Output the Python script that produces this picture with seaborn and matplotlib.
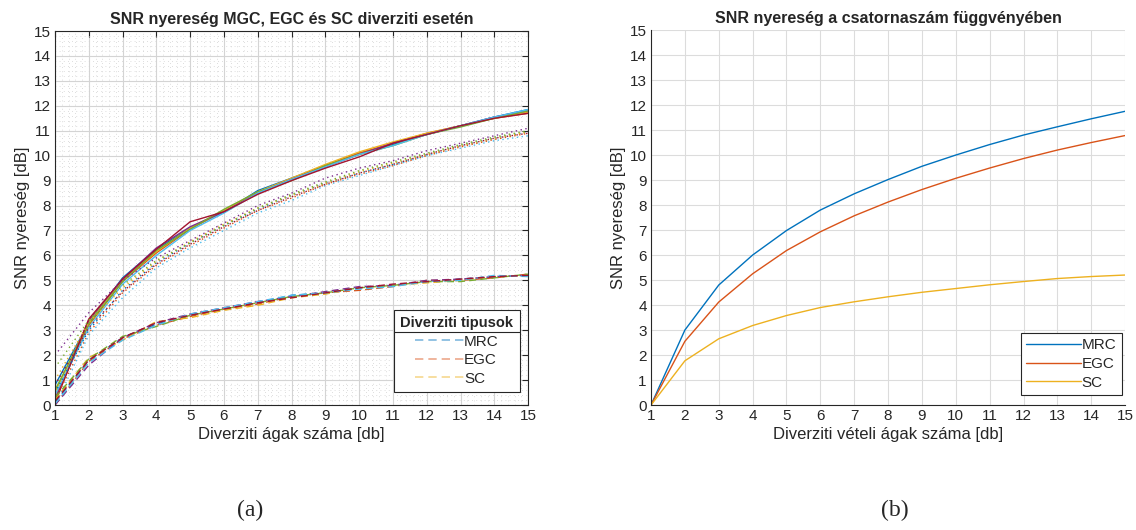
import matplotlib
matplotlib.use("Agg")
import matplotlib.pyplot as plt
import seaborn as sns
import numpy as np
import pandas as pd
from matplotlib.lines import Line2D
from matplotlib.ticker import MultipleLocator

# ---------------- data ----------------
branches = list(range(1, 16))

# panel (a): repeated simulation runs
mrc_runs = [
    [0.8, 3.3, 5.1, 6.25, 7.1, 7.75, 8.6, 9.1, 9.6, 10.1, 10.45, 10.85, 11.2, 11.55, 11.85],
    [0.3, 3.2, 4.95, 6.1, 7.05, 7.8, 8.5, 9.05, 9.6, 10.1, 10.5, 10.9, 11.2, 11.5, 11.7],
    [0.5, 3.35, 5.0, 6.15, 7.1, 7.8, 8.55, 9.1, 9.65, 10.15, 10.55, 10.9, 11.2, 11.5, 11.75],
    [0.2, 3.4, 5.05, 6.3, 7.15, 7.75, 8.5, 9.05, 9.55, 10.05, 10.5, 10.85, 11.2, 11.55, 11.8],
    [0.6, 3.25, 4.95, 6.2, 7.05, 7.85, 8.55, 9.0, 9.6, 10.05, 10.4, 10.85, 11.15, 11.5, 11.8],
    [0.4, 3.1, 4.85, 6.0, 7.0, 7.7, 8.5, 9.05, 9.55, 10.05, 10.4, 10.85, 11.2, 11.55, 11.85],
    [0.1, 3.45, 5.05, 6.25, 7.35, 7.75, 8.45, 9.0, 9.5, 9.95, 10.5, 10.85, 11.2, 11.5, 11.7],
]
egc_runs = [
    [0.5, 3.0, 4.6, 5.7, 6.5, 7.2, 7.85, 8.4, 8.9, 9.3, 9.65, 10.05, 10.4, 10.7, 10.95],
    [0.2, 2.9, 4.5, 5.6, 6.4, 7.1, 7.8, 8.3, 8.85, 9.25, 9.6, 10.0, 10.35, 10.65, 10.9],
    [1.0, 3.3, 4.7, 5.75, 6.55, 7.25, 7.9, 8.4, 8.9, 9.35, 9.7, 10.05, 10.4, 10.7, 10.95],
    [2.0, 3.7, 5.0, 5.9, 6.6, 7.3, 8.0, 8.5, 9.1, 9.5, 9.8, 10.2, 10.5, 10.8, 11.1],
    [1.5, 3.4, 4.8, 5.8, 6.5, 7.2, 7.9, 8.45, 8.95, 9.4, 9.75, 10.1, 10.45, 10.75, 11.0],
    [0.0, 2.8, 4.3, 5.5, 6.3, 7.0, 7.7, 8.2, 8.8, 9.2, 9.6, 10.0, 10.3, 10.6, 10.8],
    [0.8, 3.1, 4.55, 5.65, 6.45, 7.15, 7.8, 8.35, 8.85, 9.3, 9.65, 10.05, 10.4, 10.7, 10.9],
]
sc_runs = [
    [0.1, 1.8, 2.7, 3.25, 3.6, 3.85, 4.1, 4.4, 4.5, 4.7, 4.8, 4.95, 5.05, 5.15, 5.2],
    [0.0, 1.75, 2.65, 3.2, 3.55, 3.85, 4.05, 4.35, 4.5, 4.6, 4.75, 5.0, 5.0, 5.1, 5.25],
    [0.2, 1.9, 2.6, 3.35, 3.5, 3.8, 4.0, 4.3, 4.45, 4.7, 4.8, 4.9, 5.0, 5.15, 5.2],
    [0.0, 1.6, 2.7, 3.3, 3.65, 3.9, 4.15, 4.35, 4.55, 4.75, 4.8, 5.0, 5.05, 5.15, 5.2],
    [0.3, 1.85, 2.75, 3.15, 3.6, 3.85, 4.1, 4.35, 4.5, 4.7, 4.8, 4.95, 4.95, 5.1, 5.25],
    [0.05, 1.7, 2.6, 3.2, 3.65, 3.9, 4.15, 4.4, 4.5, 4.65, 4.75, 4.95, 5.0, 5.2, 5.15],
    [0.15, 1.8, 2.7, 3.3, 3.6, 3.85, 4.1, 4.3, 4.5, 4.7, 4.85, 4.95, 5.05, 5.15, 5.2],
]

# panel (b): theoretical curves
mrc_theory = [0, 3.0, 4.8, 6.0, 6.98, 7.8, 8.45, 9.02, 9.55, 10.0, 10.42, 10.8, 11.13, 11.45, 11.75]
egc_theory = [0, 2.55, 4.12, 5.25, 6.18, 6.93, 7.57, 8.12, 8.62, 9.07, 9.48, 9.86, 10.2, 10.5, 10.78]
sc_theory = [0, 1.77, 2.65, 3.18, 3.58, 3.9, 4.13, 4.33, 4.51, 4.66, 4.81, 4.94, 5.06, 5.14, 5.2]

labels = ["MRC", "EGC", "SC"]
matlab_colors = ["#0072BD", "#D95319", "#EDB120", "#7E2F8E", "#77AC30", "#4DBEEE", "#A2142F"]

# ---------------- style ----------------
sns.set_style("white")
plt.rcParams["font.family"] = ["Liberation Sans", "DejaVu Sans"]

fig = plt.figure(figsize=(11.36, 5.30), dpi=100)
axA = fig.add_axes([0.0484, 0.2358, 0.4165, 0.7057])
axB = fig.add_axes([0.5731, 0.2358, 0.4173, 0.7075])

# ---------------- panel (a) ----------------
for runs, ls in [(mrc_runs, "-"), (egc_runs, (0, (1, 2.5))), (sc_runs, (0, (5, 3)))]:
    for i, run in enumerate(runs):
        df = pd.DataFrame({"x": branches, "y": run})
        sns.lineplot(data=df, x="x", y="y", ax=axA, color=matlab_colors[i % 7],
                     linestyle=ls, linewidth=1.0, legend=False)

axA.set_xlim(1, 15)
axA.set_ylim(0, 15)
axA.xaxis.set_major_locator(MultipleLocator(1))
axA.yaxis.set_major_locator(MultipleLocator(1))
axA.xaxis.set_minor_locator(MultipleLocator(0.2))
axA.yaxis.set_minor_locator(MultipleLocator(0.2))
axA.set_axisbelow(True)
axA.grid(True, which="major", color="#d4d4d4", linewidth=0.8)
axA.grid(True, which="minor", color="#d2d2d2", linestyle=(0, (1, 4)), linewidth=0.6)
axA.tick_params(which="major", direction="in", top=True, right=True, length=4,
                labelsize=11, colors="#262626", width=0.8, pad=3)
axA.tick_params(which="minor", length=0, top=True, right=True)
for s in axA.spines.values():
    s.set_color("#262626")
    s.set_linewidth(0.8)
axA.set_xlabel("Diverziti ágak száma [db]", fontsize=12, color="#262626", labelpad=3)
axA.set_ylabel("SNR nyereség [dB]", fontsize=12, color="#262626", labelpad=3)
axA.set_title("SNR nyereség MGC, EGC és SC diverziti esetén", fontsize=11.5,
              fontweight="bold", pad=5)

handlesA = [Line2D([0], [0], color=matlab_colors[k], linestyle=(0, (5, 3)), alpha=0.5, linewidth=1.2)
            for k in range(3)]
legA = axA.legend(handlesA, labels, title="Diverziti tipusok", loc="lower right",
                  bbox_to_anchor=(0.982, 0.035), borderaxespad=0, fontsize=11,
                  title_fontproperties={"weight": "bold", "size": 10.5},
                  frameon=True, fancybox=False, edgecolor="#262626", framealpha=1,
                  handlelength=3.2, handletextpad=0.0, labelspacing=0.3, borderpad=0.4)
legA.get_frame().set_linewidth(0.8)

# ---------------- panel (b) ----------------
for vals, k in [(mrc_theory, 0), (egc_theory, 1), (sc_theory, 2)]:
    df = pd.DataFrame({"x": branches, "y": vals})
    sns.lineplot(data=df, x="x", y="y", ax=axB, color=matlab_colors[k], linewidth=1.0,
                 label=labels[k])

axB.set_xlim(1, 15)
axB.set_ylim(0, 15)
axB.xaxis.set_major_locator(MultipleLocator(1))
axB.yaxis.set_major_locator(MultipleLocator(1))
axB.set_axisbelow(True)
axB.grid(True, which="major", color="#dcdcdc", linewidth=0.8)
axB.tick_params(which="major", direction="in", length=4, labelsize=11,
                colors="#262626", width=0.8, pad=3)
axB.spines["top"].set_visible(False)
axB.spines["right"].set_visible(False)
for s in ["left", "bottom"]:
    axB.spines[s].set_color("#262626")
    axB.spines[s].set_linewidth(0.8)
axB.set_xlabel("Diverziti vételi ágak száma [db]", fontsize=12, color="#262626", labelpad=3)
axB.set_ylabel("SNR nyereség [dB]", fontsize=12, color="#262626", labelpad=3)
axB.set_title("SNR nyereség a csatornaszám függvényében", fontsize=11.5,
              fontweight="bold", pad=5)
legB = axB.legend(loc="lower right", bbox_to_anchor=(0.993, 0.027), borderaxespad=0,
                  fontsize=11, frameon=True, fancybox=False, edgecolor="#262626",
                  framealpha=1, handlelength=3.6, handletextpad=0.05, labelspacing=0.3,
                  borderpad=0.35)
legB.get_frame().set_linewidth(0.8)

# separator line under the legend title of panel (a)
fig.canvas.draw()
renderer = fig.canvas.get_renderer()
fb = legA.get_frame().get_window_extent(renderer)
tb = legA.get_title().get_window_extent(renderer)
inv = fig.transFigure.inverted()
(x0, yline), = inv.transform([(fb.x0, tb.y0 - 2)])
(x1, _), = inv.transform([(fb.x1, tb.y0 - 2)])
fig.add_artist(Line2D([x0, x1], [yline, yline], color="#262626", linewidth=0.8,
                      transform=fig.transFigure))

# captions
fig.text(0.22, 0.036, "(a)", ha="center", va="center", fontsize=17,
         family=["Liberation Serif", "DejaVu Serif"])
fig.text(0.788, 0.036, "(b)", ha="center", va="center", fontsize=17,
         family=["Liberation Serif", "DejaVu Serif"])

fig.savefig("out.png", dpi=100, facecolor="white")
